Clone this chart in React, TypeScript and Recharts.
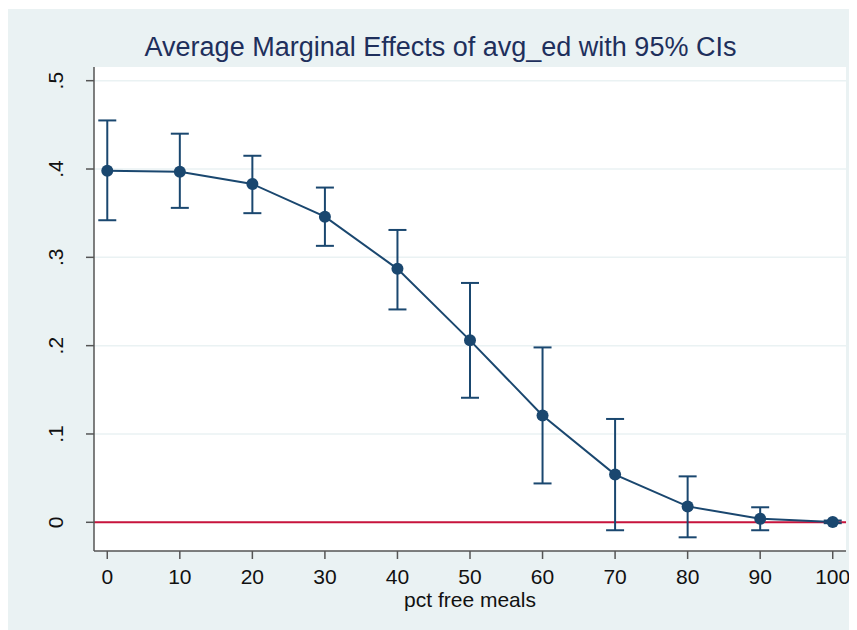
import React from "react"
import {
  ComposedChart,
  Line,
  XAxis,
  YAxis,
  CartesianGrid,
  ErrorBar,
  ReferenceLine,
} from "recharts"

const pctFreeMeals = [0, 10, 20, 30, 40, 50, 60, 70, 80, 90, 100]
const marginalEffect = [0.398, 0.397, 0.383, 0.346, 0.287, 0.206, 0.121, 0.054, 0.018, 0.004, 0.0003]
const ciLower = [0.342, 0.356, 0.35, 0.313, 0.241, 0.141, 0.044, -0.009, -0.017, -0.009, -0.001]
const ciUpper = [0.455, 0.44, 0.415, 0.379, 0.331, 0.271, 0.198, 0.117, 0.052, 0.017, 0.002]

const xTicks = [0, 10, 20, 30, 40, 50, 60, 70, 80, 90, 100]
const yTicks = [0, 0.1, 0.2, 0.3, 0.4, 0.5]

const NAVY = "#1a476f"
const BG = "#eaf2f3"
const FONT = '"Liberation Sans", Arial, sans-serif'

const data = pctFreeMeals.map((x, i) => ({
  x,
  y: marginalEffect[i],
  err: [marginalEffect[i] - ciLower[i], ciUpper[i] - marginalEffect[i]],
}))

const fmtY = (v: number) => (v === 0 ? "0" : String(v).replace(/^0/, ""))

function RotatedTick(props: any) {
  const { x, y, payload } = props
  return (
    <text
      transform={`translate(${x - 29}, ${y}) rotate(-90)`}
      textAnchor="middle"
      dy="0.36em"
      fontSize={21}
      fontFamily={FONT}
      fill="#111"
    >
      {fmtY(payload.value)}
    </text>
  )
}

export default function App() {
  return (
    <div
      style={{
        position: "relative",
        width: 849,
        height: 621,
        marginTop: 1,
        background: BG,
        fontFamily: FONT,
      }}
    >
      <div
        style={{
          position: "absolute",
          left: 0,
          width: 865,
          top: 23,
          textAlign: "center",
          fontSize: 27,
          color: "#1e2f5c",
          lineHeight: "30px",
        }}
      >
        Average Marginal Effects of avg_ed with 95% CIs
      </div>
      <ComposedChart
        width={849}
        height={621}
        data={data}
        margin={{ top: 58, right: 11, bottom: 0, left: 0 }}
      >
        <CartesianGrid
          vertical={false}
          fill="#ffffff"
          stroke={BG}
          strokeWidth={1.5}
          horizontalValues={yTicks}
        />
        <XAxis
          type="number"
          dataKey="x"
          domain={[-1.83, 101.83]}
          ticks={xTicks}
          allowDataOverflow
          height={79}
          tickSize={8}
          tickMargin={10}
          stroke="#555"
          strokeWidth={1.5}
          tick={{ fontSize: 21, fill: "#111", fontFamily: FONT }}
          label={{
            value: "pct free meals",
            position: "insideBottom",
            offset: 23,
            fontSize: 21,
            fill: "#111",
            fontFamily: FONT,
          }}
        />
        <YAxis
          type="number"
          domain={[-0.0325, 0.5155]}
          ticks={yTicks}
          allowDataOverflow
          width={86}
          tickSize={8}
          stroke="#555"
          strokeWidth={1.5}
          tick={<RotatedTick />}
        />
        <ReferenceLine y={0} stroke="#c8143c" strokeWidth={2} />
        <Line
          type="linear"
          dataKey="y"
          stroke={NAVY}
          strokeWidth={2}
          dot={{ r: 6, fill: NAVY, stroke: NAVY, strokeWidth: 0 }}
          activeDot={false}
          isAnimationActive={false}
        >
          <ErrorBar
            dataKey="err"
            direction="y"
            width={9}
            stroke={NAVY}
            strokeWidth={2}
            isAnimationActive={false}
          />
        </Line>
      </ComposedChart>
    </div>
  )
}
